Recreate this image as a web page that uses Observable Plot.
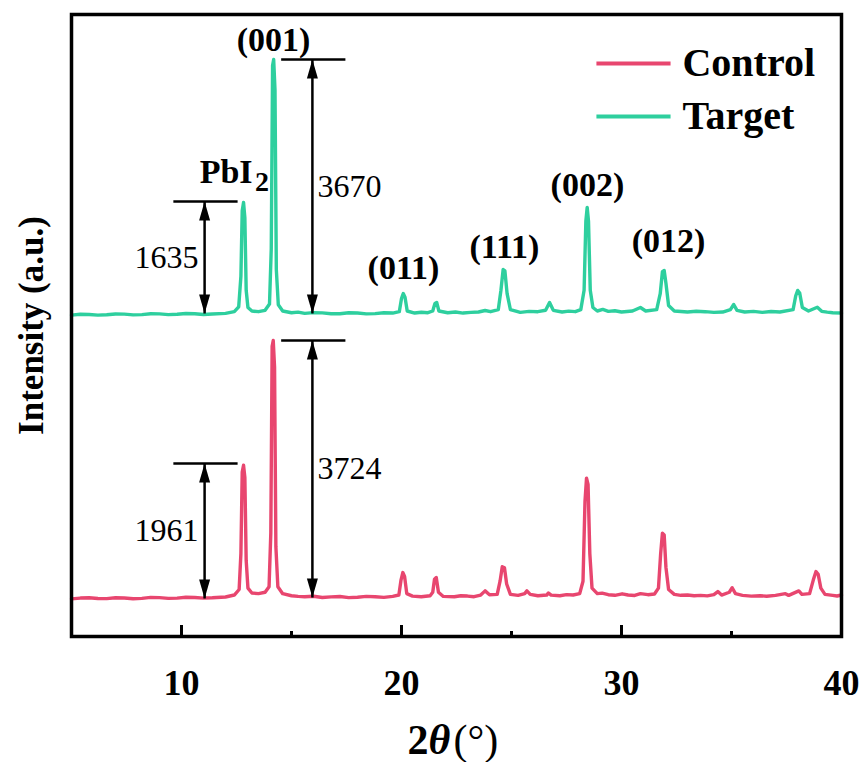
<!DOCTYPE html>
<html><head><meta charset="utf-8">
<script src="https://cdn.jsdelivr.net/npm/d3@7"></script>
<script src="https://cdn.jsdelivr.net/npm/@observablehq/plot@0.6"></script>
<style>body{margin:0;background:#fff}</style>
</head><body><div id="chart"></div>
<script>
// ---- data ----
const seriesNames = ["Control", "Target"];
const seriesColors = ["#e8466f", "#2ecf9e"];
const seriesOffset = [0, 4110]; // vertical stacking offset (a.u.)

const controlTrace = [
[5.0,545],[5.4,556],[5.8,560],[6.2,550],[6.6,548],[7.0,560],[7.4,558],[7.8,547],[8.2,552],[8.6,566],[9.0,562],[9.4,551],[9.8,555],[10.2,567],[10.6,565],[11.0,556],[11.4,560],[12.0,572],[12.4,600],[12.62,680],[12.70,1200],[12.76,2380],[12.82,2478],[12.88,2300],[12.94,1100],[13.02,700],[13.2,630],[13.5,620],[13.8,640],[13.98,720],[14.06,1500],[14.12,4200],[14.17,4283],[14.23,3900],[14.29,1300],[14.38,720],[14.6,620],[15.0,590],[15.3,580],[15.6,575],[16.0,583],[16.4,565],[16.8,574],[17.2,578],[17.6,563],[18.0,568],[18.4,580],[18.8,575],[19.2,566],[19.6,580],[19.88,600],[19.98,820],[20.06,925],[20.14,870],[20.24,620],[20.5,585],[20.9,575],[21.3,590],[21.42,640],[21.50,830],[21.58,854],[21.68,640],[21.9,580],[22.4,575],[22.7,590],[23.0,585],[23.3,576],[23.6,600],[23.8,660],[24.0,605],[24.35,610],[24.48,800],[24.58,1010],[24.68,995],[24.78,760],[24.95,610],[25.3,595],[25.6,620],[25.7,660],[25.85,610],[26.2,590],[26.6,600],[26.68,630],[26.8,598],[27.2,590],[27.5,606],[27.8,600],[28.1,620],[28.25,800],[28.34,1950],[28.41,2290],[28.48,2200],[28.56,1200],[28.66,700],[28.9,620],[29.12,628],[29.4,605],[29.7,596],[30.03,618],[30.3,600],[30.6,594],[30.86,620],[31.2,605],[31.5,615],[31.68,700],[31.78,1200],[31.86,1495],[31.94,1470],[32.02,1000],[32.14,680],[32.4,610],[32.7,596],[33.0,600],[33.3,590],[33.6,595],[33.9,588],[34.2,605],[34.38,650],[34.55,600],[34.9,640],[35.03,705],[35.18,620],[35.5,595],[35.9,584],[36.3,590],[36.6,582],[37.0,595],[37.45,620],[37.6,595],[38.06,660],[38.2,610],[38.55,620],[38.72,820],[38.84,940],[38.94,900],[39.06,700],[39.25,610],[39.6,595],[39.8,586],[40.0,600]
];
const targetTrace = [
[5.0,540],[5.4,552],[5.8,550],[6.2,540],[6.6,545],[7.0,557],[7.4,555],[7.8,544],[8.2,548],[8.6,560],[9.0,558],[9.4,547],[9.8,552],[10.2,563],[10.6,560],[11.0,550],[11.4,556],[12.0,566],[12.4,590],[12.6,660],[12.70,1100],[12.76,2050],[12.82,2170],[12.88,1950],[12.94,900],[13.02,650],[13.2,600],[13.5,590],[13.8,610],[14.0,700],[14.08,1500],[14.14,4150],[14.19,4239],[14.25,3800],[14.31,1200],[14.4,690],[14.6,600],[15.0,575],[15.3,584],[15.6,565],[16.0,576],[16.4,572],[16.8,561],[17.2,560],[17.6,574],[18.0,570],[18.4,558],[18.8,562],[19.2,575],[19.6,570],[19.9,590],[20.0,780],[20.08,853],[20.16,800],[20.26,600],[20.6,570],[20.9,582],[21.2,575],[21.42,600],[21.52,710],[21.6,724],[21.7,600],[22.1,575],[22.45,586],[22.8,570],[23.15,580],[23.5,585],[23.8,607],[24.05,590],[24.4,620],[24.52,900],[24.62,1200],[24.7,1180],[24.8,850],[24.95,620],[25.4,580],[25.8,595],[26.2,590],[26.55,610],[26.73,724],[26.9,610],[27.3,585],[27.6,598],[27.9,590],[28.15,620],[28.3,900],[28.38,1900],[28.44,2098],[28.5,1900],[28.58,900],[28.7,650],[28.9,600],[29.15,622],[29.4,595],[29.7,604],[30.0,585],[30.5,600],[30.86,651],[31.1,600],[31.6,620],[31.76,850],[31.86,1170],[31.94,1186],[32.02,1000],[32.14,680],[32.4,600],[32.7,592],[33.0,585],[33.4,597],[33.8,590],[34.2,580],[34.6,585],[34.95,620],[35.1,694],[35.25,610],[35.6,585],[36.0,595],[36.4,580],[36.8,592],[37.2,585],[37.8,620],[37.92,820],[38.01,897],[38.1,860],[38.22,650],[38.5,600],[38.9,655],[39.1,595],[39.35,584],[39.6,575],[40.0,570]
];

// peak labels (Target trace): text, 2θ, label height (a.u., display)
const peakLabels = ["(001)", "(011)", "(111)", "(002)", "(012)"];
const peakLabelTheta = [14.18, 20.09, 24.68, 28.45, 32.14];
const peakLabelY = [8624, 5325, 5629, 6526, 5716];
const pbi2Theta = 12.3, pbi2Y = 6714;

// intensity annotations: series index, 2θ of arrow, top & base (raw a.u.), text
const annSeries = [1, 1, 0, 0];
const annTheta = [11.05, 15.95, 11.05, 15.95];
const annTop = [2184, 4239, 2503, 4283];
const annBase = [564, 564, 550, 564];
const annText = ["1635", "3670", "1961", "3724"];

const majorTicks = [10, 20, 30, 40];
const minorTicks = [15, 25, 35];

// ---- build tables ----
const traces = [];
[controlTrace, targetTrace].forEach((tr, s) => tr.forEach(([x, y]) =>
  traces.push({series: seriesNames[s], x, y: y + seriesOffset[s]})));
const ann = annText.map((t, i) => ({
  x: annTheta[i], top: annTop[i] + seriesOffset[annSeries[i]],
  base: annBase[i] + seriesOffset[annSeries[i]], text: t
}));
ann.forEach(d => d.mid = (d.top + d.base) / 2);
const labels = peakLabels.map((t, i) => ({text: t, x: peakLabelTheta[i], y: peakLabelY[i]}));

const serif = "'Liberation Serif', 'Times New Roman', serif";
const headUp = {draw(ctx) { ctx.moveTo(0, 0); ctx.lineTo(5.5, 19); ctx.lineTo(-5.5, 19); ctx.closePath(); }};
const headDown = {draw(ctx) { ctx.moveTo(0, 0); ctx.lineTo(5.5, -19); ctx.lineTo(-5.5, -19); ctx.closePath(); }};

const legendY = [8291, 7524];

const chart = Plot.plot({
  width: 866, height: 762,
  marginLeft: 71, marginRight: 25, marginTop: 14, marginBottom: 126,
  style: {fontFamily: serif, background: "white", color: "black"},
  x: {domain: [5, 40], axis: null},
  y: {domain: [0, 9000], axis: null},
  color: {domain: seriesNames, range: seriesColors},
  marks: [
    Plot.line(traces, {x: "x", y: "y", z: "series", stroke: "series", strokeWidth: 3.4, strokeLinejoin: "round"}),
    // annotations
    Plot.link(ann, {x1: "x", x2: "x", y1: "base", y2: "top", stroke: "black", strokeWidth: 2.5}),
    Plot.link(ann, {x1: d => d.x - 1.42, x2: d => d.x + 1.5, y1: "top", y2: "top", stroke: "black", strokeWidth: 2.5}),
    Plot.dot(ann, {x: "x", y: "top", symbol: headUp, r: 5, fill: "black", stroke: "none"}),
    Plot.dot(ann, {x: "x", y: "base", symbol: headDown, r: 5, fill: "black", stroke: "none"}),
    Plot.text(ann.filter(d => d.x < 13), {x: "x", y: "mid", text: "text", dx: -6, textAnchor: "end", fontSize: 32, lineAnchor: "middle", fill: "black"}),
    Plot.text(ann.filter(d => d.x > 13), {x: "x", y: "mid", text: "text", dx: 5, textAnchor: "start", fontSize: 32, lineAnchor: "middle", fill: "black"}),
    // peak labels
    Plot.text(labels, {x: "x", y: "y", text: "text", fontSize: 34, fontWeight: "bold", lineAnchor: "middle", fill: "black"}),
    Plot.text(["PbI"], {x: pbi2Theta, y: pbi2Y, text: d => d, dx: -6, fontSize: 34, fontWeight: "bold", lineAnchor: "middle", fill: "black"}),
    Plot.text(["2"], {x: pbi2Theta, y: pbi2Y, text: d => d, dx: 23, dy: 10, textAnchor: "start", fontSize: 28, fontWeight: "bold", lineAnchor: "middle", fill: "black"}),
    // legend
    Plot.link(seriesNames, {x1: 28.86, x2: 32.23, y1: (d, i) => legendY[i], y2: (d, i) => legendY[i], stroke: d => d, strokeWidth: 4}),
    Plot.text(seriesNames, {x: 32.77, y: (d, i) => legendY[i], text: d => d, textAnchor: "start", lineAnchor: "middle", fontSize: 40, fontWeight: "bold", fill: "black"}),
    // frame & ticks
    Plot.frame({stroke: "black", strokeWidth: 3.5}),
    Plot.tickX(majorTicks, {x: d => d, insetTop: 611, stroke: "black", strokeWidth: 3}),
    Plot.tickX(minorTicks, {x: d => d, insetTop: 617, stroke: "black", strokeWidth: 3}),
    Plot.text(majorTicks, {x: d => d, frameAnchor: "bottom", dy: 47, text: d => String(d), fontSize: 36, fontWeight: "bold", lineAnchor: "middle", fill: "black"}),
    // axis titles
    Plot.text(["Intensity (a.u.)"], {frameAnchor: "left", dx: -40, dy: 0, rotate: -90, text: d => d, textAnchor: "middle", fontSize: 35, fontWeight: "bold", lineAnchor: "middle", fill: "black"}),
    Plot.text(["2"], {frameAnchor: "bottom", dx: -49, dy: 104, text: d => d, textAnchor: "start", fontSize: 42, fontWeight: "bold", lineAnchor: "middle", fill: "black"}),
    Plot.text(["θ"], {frameAnchor: "bottom", dx: -28, dy: 104, text: d => d, textAnchor: "start", fontSize: 42, fontWeight: "bold", fontStyle: "italic", lineAnchor: "middle", fill: "black"}),
    Plot.text(["(°)"], {frameAnchor: "bottom", dx: -3, dy: 104, text: d => d, textAnchor: "start", fontSize: 42, lineAnchor: "middle", fill: "black"})
  ]
});
document.getElementById("chart").append(chart);
</script>
</body></html>
